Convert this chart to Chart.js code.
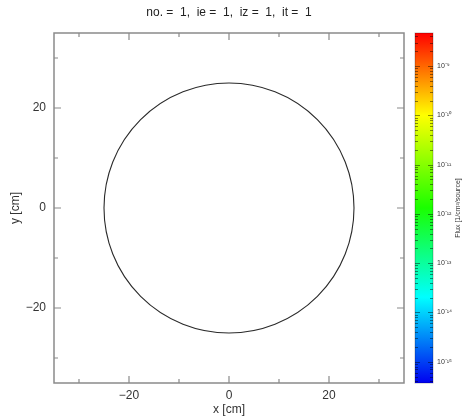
<!DOCTYPE html>
<html>
<head>
<meta charset="utf-8">
<script src="https://cdn.jsdelivr.net/npm/chart.js@4.4.1/dist/chart.umd.min.js"></script>
<style>
  html, body { margin: 0; padding: 0; background: #fff; }
</style>
</head>
<body>
<canvas id="geomChart" width="468" height="417"></canvas>
<script>
// Chart data
const plotTitle = 'no. =  1,  ie =  1,  iz =  1,  it =  1';
const axisRange = [-35, 35];
const majorTicks = [-20, 0, 20];
const minorTicks = [-30, -10, 10, 30];

// cell boundary (center and radius in cm)
const cellCenterX = [0];
const cellCenterY = [0];
const cellRadius = [25];

// colour scale
const fluxRange = [3.7e-16, 4.7e-9];
const fluxDecades = [-16, -15, -14, -13, -12, -11, -10, -9];
const fluxLabels = ['10⁻¹⁶', '10⁻¹⁵', '10⁻¹⁴', '10⁻¹³', '10⁻¹²', '10⁻¹¹', '10⁻¹⁰', '10⁻⁹'];
const fluxTitle = 'Flux [1/cm²/source]';
const fluxColors = [
  [0, '#0000f0'],
  [0.245, '#00ffff'],
  [0.5, '#1aff00'],
  [0.765, '#ffff00'],
  [1, '#ff0000']
];

const fontFamily = "'Liberation Sans', Arial, sans-serif";

function formatTick(v) {
  return v < 0 ? '\u2212' + Math.abs(v) : String(v);
}

function buildAxisTicks(scale) {
  const all = majorTicks.concat(minorTicks).sort((a, b) => a - b);
  scale.ticks = all.map(v => ({ value: v, major: majorTicks.includes(v) }));
}

function buildFluxTicks(scale) {
  const ticks = [];
  fluxDecades.forEach((e, i) => {
    for (let s = 1; s <= 9; s++) {
      const v = s * Math.pow(10, e);
      if (v >= fluxRange[0] && v <= fluxRange[1]) {
        ticks.push({ value: v, major: s === 1, label: s === 1 ? fluxLabels[i] : '' });
      }
    }
  });
  scale.ticks = ticks;
}

// fixed axis sizes, no extra label padding around the plot area
function fixSize(w, h) {
  return s => {
    if (w !== null) s.width = w;
    if (h !== null) s.height = h;
    s.paddingTop = 0;
    s.paddingBottom = 0;
    s.paddingLeft = 0;
    s.paddingRight = 0;
  };
}

// frame, inward ticks, cell outline and colour bar
const geometryPlugin = {
  id: 'geometry',
  afterDatasetsDraw(chart) {
    const { ctx, chartArea, scales } = chart;
    const xs = scales.x, ys = scales.y;
    ctx.save();
    ctx.beginPath();
    ctx.rect(chartArea.left, chartArea.top, chartArea.width, chartArea.height);
    ctx.clip();
    ctx.strokeStyle = '#2a2a2a';
    ctx.lineWidth = 1.1;
    cellRadius.forEach((r, i) => {
      const cx = xs.getPixelForValue(cellCenterX[i]);
      const cy = ys.getPixelForValue(cellCenterY[i]);
      const rx = Math.abs(xs.getPixelForValue(cellCenterX[i] + r) - cx);
      const ry = Math.abs(ys.getPixelForValue(cellCenterY[i] + r) - cy);
      ctx.beginPath();
      ctx.ellipse(cx, cy, rx, ry, 0, 0, Math.PI * 2);
      ctx.stroke();
    });
    ctx.restore();
  },
  afterDraw(chart) {
    const { ctx, chartArea } = chart;
    const xs = chart.scales.x, ys = chart.scales.y, fs = chart.scales.flux;
    const L = chartArea.left, R = chartArea.right, T = chartArea.top, B = chartArea.bottom;

    ctx.save();
    // frame
    ctx.strokeStyle = '#8a8a8a';
    ctx.lineWidth = 1.5;
    ctx.strokeRect(L, T, R - L, B - T);

    // ticks pointing inward on all four sides
    ctx.lineWidth = 1.2;
    xs.ticks.forEach(t => {
      const px = xs.getPixelForValue(t.value);
      const len = t.major ? 7 : 4;
      ctx.beginPath();
      ctx.moveTo(px, B); ctx.lineTo(px, B - len);
      ctx.moveTo(px, T); ctx.lineTo(px, T + len);
      ctx.stroke();
    });
    ys.ticks.forEach(t => {
      const py = ys.getPixelForValue(t.value);
      const len = t.major ? 7 : 4;
      ctx.beginPath();
      ctx.moveTo(L, py); ctx.lineTo(L + len, py);
      ctx.moveTo(R, py); ctx.lineTo(R - len, py);
      ctx.stroke();
    });

    // colour bar
    const barL = fs.left + 11, barR = barL + 18;
    const barT = fs.top, barB = fs.bottom;
    const grad = ctx.createLinearGradient(0, barB, 0, barT);
    fluxColors.forEach(c => grad.addColorStop(c[0], c[1]));
    ctx.fillStyle = grad;
    ctx.fillRect(barL, barT, barR - barL, barB - barT);

    ctx.strokeStyle = 'rgba(0,0,0,0.45)';
    ctx.lineWidth = 1;
    fs.ticks.forEach(t => {
      const py = Math.round(fs.getPixelForValue(t.value)) + 0.5;
      const len = t.major ? 5 : 3;
      ctx.beginPath();
      ctx.moveTo(barL, py); ctx.lineTo(barL + len, py);
      ctx.moveTo(barR, py); ctx.lineTo(barR - len, py);
      ctx.stroke();
    });
    ctx.strokeStyle = 'rgba(0,0,0,0.25)';
    ctx.strokeRect(barL, barT, barR - barL, barB - barT);

    // colour bar title, reading bottom to top
    ctx.translate(fs.left + 54, (barT + barB) / 2);
    ctx.rotate(-Math.PI / 2);
    ctx.fillStyle = '#333';
    ctx.font = '7px ' + fontFamily;
    ctx.textAlign = 'center';
    ctx.textBaseline = 'middle';
    ctx.fillText(fluxTitle, 0, 0);
    ctx.restore();
  }
};

const tickFont = { family: fontFamily, size: 12 };

new Chart(document.getElementById('geomChart'), {
  type: 'scatter',
  data: {
    datasets: [{
      data: cellCenterX.map((x, i) => ({ x: x, y: cellCenterY[i] })),
      pointRadius: 0,
      showLine: false
    }]
  },
  options: {
    responsive: false,
    animation: false,
    layout: { padding: 0 },
    plugins: {
      legend: { display: false },
      tooltip: { enabled: false },
      title: {
        display: true,
        text: plotTitle,
        fullSize: false,
        color: '#222',
        font: { family: fontFamily, size: 12, weight: 'normal' },
        padding: { top: 5, bottom: 13.6 }
      }
    },
    scales: {
      x: {
        type: 'linear',
        min: axisRange[0],
        max: axisRange[1],
        afterBuildTicks: buildAxisTicks,
        afterFit: fixSize(null, 34),
        grid: { display: false, drawTicks: false },
        border: { display: false },
        ticks: {
          autoSkip: false,
          maxRotation: 0,
          padding: 5,
          color: '#333',
          font: tickFont,
          callback: v => majorTicks.includes(v) ? formatTick(v) : ''
        },
        title: {
          display: true,
          text: 'x [cm]',
          color: '#333',
          font: tickFont,
          padding: { top: 0, bottom: 0 }
        }
      },
      y: {
        type: 'linear',
        min: axisRange[0],
        max: axisRange[1],
        afterBuildTicks: buildAxisTicks,
        afterFit: fixSize(54, null),
        grid: { display: false, drawTicks: false },
        border: { display: false },
        ticks: {
          autoSkip: false,
          padding: 8,
          color: '#333',
          font: tickFont,
          callback: v => majorTicks.includes(v) ? formatTick(v) : ''
        },
        title: {
          display: true,
          text: 'y [cm]',
          color: '#333',
          font: tickFont,
          padding: { top: 8, bottom: 0 }
        }
      },
      flux: {
        type: 'logarithmic',
        position: 'right',
        min: fluxRange[0],
        max: fluxRange[1],
        afterBuildTicks: buildFluxTicks,
        afterFit: fixSize(64, null),
        grid: { display: false, drawTicks: false },
        border: { display: false },
        ticks: {
          autoSkip: false,
          padding: 33,
          color: '#333',
          font: { family: fontFamily, size: 7 },
          callback: (v, i, ticks) => ticks[i].label
        }
      }
    }
  },
  plugins: [geometryPlugin]
});
</script>
</body>
</html>
